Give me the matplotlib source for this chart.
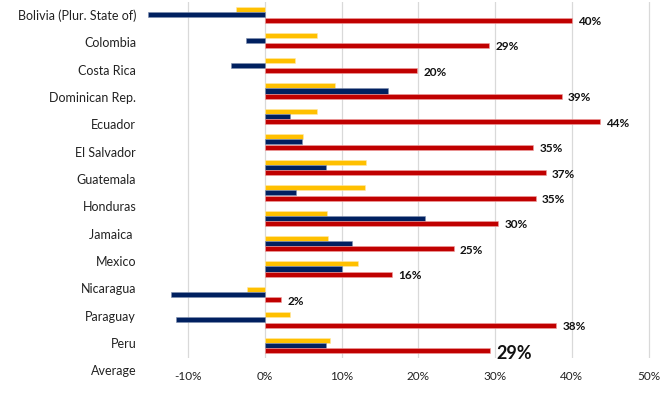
import numpy as np
import matplotlib
matplotlib.use("Agg")
import matplotlib.pyplot as plt

# ---------------------------------------------------------
# data (percent)
# ---------------------------------------------------------
countries = ["Bolivia (Plur. State of)", "Colombia", "Costa Rica", "Dominican Rep.",
             "Ecuador", "El Salvador", "Guatemala", "Honduras", "Jamaica ",
             "Mexico", "Nicaragua", "Paraguay", "Peru", "Average"]

yellow_vals = [-3.8, 6.8, 3.9, 9.1, 6.8, 4.9, 13.1, 13.0, 8.1, 8.2, 12.1, -2.4, 3.2, 8.5]
navy_vals = [-15.3, -2.5, -4.5, 16.0, 3.2, 4.8, 7.9, 4.0, 20.8, 11.4, 10.0, -12.3, -11.6, 7.9]
red_vals = [40.0, 29.2, 19.8, 38.7, 43.7, 35.0, 36.6, 35.3, 30.4, 24.6, 16.5, 2.1, 38.0, 29.3]

xticks = [-10, 0, 10, 20, 30, 40, 50]

c_yellow = "#FFC000"
c_navy = "#002060"
c_red = "#C00000"

plt.rcParams['font.family'] = ['Lato', 'DejaVu Sans']

fig = plt.figure(figsize=(6.7, 3.98), dpi=100)
ax = fig.add_axes([0.2124, 0.1005, 0.7670, 0.8945])

y = np.arange(len(countries))
h = 0.2
ax.barh(y - 0.2, yellow_vals, height=h, color=c_yellow, edgecolor="#ffe9a8", linewidth=0.4, zorder=3)
ax.barh(y, navy_vals, height=h, color=c_navy, edgecolor="#8090b0", linewidth=0.4, zorder=3)
ax.barh(y + 0.21, red_vals, height=h, color=c_red, edgecolor="#f0a0a0", linewidth=0.4, zorder=3)

# value labels on the red bars (the average one is bigger)
for i, v in enumerate(red_vals):
    big = (i == len(red_vals) - 1)
    ax.annotate(f"{v:.0f}%", xy=(v, y[i] + 0.21), xytext=(4.5, -1 if not big else -2),
                textcoords="offset points", va="center", ha="left",
                fontsize=13 if big else 8.5, fontweight="bold", color="#111111")

ax.set_xlim(-16, 51)
ax.set_ylim(len(countries) - 0.5, -0.5)
ax.set_xticks(xticks)
ax.set_xticklabels([f"{t}%" for t in xticks], fontsize=8.5, color="#222222")
ax.tick_params(axis="x", length=0, pad=9)
ax.set_yticks([])
ax.grid(axis="x", color="#d9d9d9", linewidth=0.9, zorder=0)
for s in ax.spines.values():
    s.set_visible(False)

# category labels sit on a slightly wider spacing than the bar groups
label_y = np.arange(len(countries)) * 1.0745 + 0.05
for name, ly in zip(countries, label_y):
    ax.text(-0.012, ly, name, transform=ax.get_yaxis_transform(), ha="right", va="center",
            fontsize=9, color="#222222", clip_on=False)

fig.savefig("out.png", dpi=100)
